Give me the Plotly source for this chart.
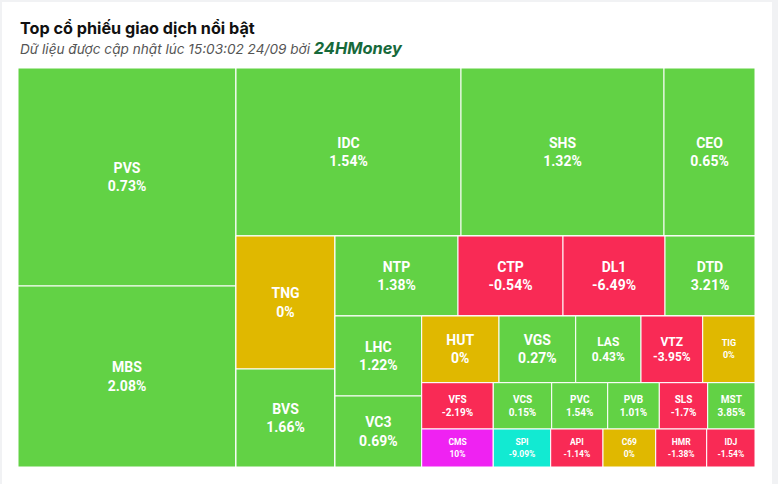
import plotly.graph_objects as go

# ---- data ----
tickers = ["PVS", "MBS", "IDC", "SHS", "CEO", "TNG", "BVS", "NTP", "CTP", "DL1",
           "DTD", "LHC", "VC3", "HUT", "VGS", "LAS", "VTZ", "TIG", "VFS", "CMS",
           "VCS", "PVC", "PVB", "SLS", "MST", "SPI", "API", "C69", "HMR", "IDJ"]
trade_values = [47524, 39458, 37800, 34104, 15288, 13167, 9702, 9840, 8400, 8160,
                7200, 6936, 6156, 5156, 5116, 4356, 4115, 3488, 3315, 2721,
                2704, 2593, 2389, 2241, 2190, 2181, 1987, 2003, 1938, 1835]
changes = [0.73, 2.08, 1.54, 1.32, 0.65, 0, 1.66, 1.38, -0.54, -6.49,
           3.21, 1.22, 0.69, 0, 0.27, 0.43, -3.95, 0, -2.19, 10,
           0.15, 1.54, 1.01, -1.7, 3.85, -9.09, -1.14, 0, -1.38, -1.54]
price_limit = {"CMS": "ceiling", "SPI": "floor"}
# tiles grouped in the order the chart lays them out (alternating columns / rows)
tile_groups = [["PVS", "MBS"], ["IDC", "SHS", "CEO"], ["TNG", "BVS"],
               ["NTP", "CTP", "DL1", "DTD"], ["LHC", "VC3"],
               ["HUT", "VGS", "LAS", "VTZ", "TIG"], ["VFS", "CMS"],
               ["VCS", "PVC", "PVB", "SLS", "MST"], ["SPI", "API", "C69", "HMR", "IDJ"]]

# ---- styles ----
GREEN, RED, GOLD, MAGENTA, CYAN = "#62D245", "#F92A55", "#E0B800", "#EF22F2", "#12EAD2"
font_size = {t: 14 for t in tickers}
font_size.update({"LAS": 12, "VTZ": 12, "TIG": 9,
                  "VFS": 10, "VCS": 10, "PVC": 10, "PVB": 10, "SLS": 10, "MST": 10,
                  "CMS": 8.5, "SPI": 8.5, "API": 8.5, "C69": 8.5, "HMR": 8.5, "IDJ": 8.5})

def color_for(t, c):
    if price_limit.get(t) == "ceiling":
        return MAGENTA
    if price_limit.get(t) == "floor":
        return CYAN
    if c > 0:
        return GREEN
    if c < 0:
        return RED
    return GOLD

ids, labels, parents, values, texts, colors, sizes = [], [], [], [], [], [], []

def add(i, lab, par, val, txt, col, sz):
    ids.append(i); labels.append(lab); parents.append(par); values.append(val)
    texts.append(txt); colors.append(col); sizes.append(sz)

add("root", "", "", 0, "", "white", 10)
container = "root"
n = len(tile_groups)
for gi, grp in enumerate(tile_groups):
    add(f"G{gi}", "", container, 0, "", "white", 10)
    if gi < n - 2:
        rid = f"R{gi}"
        add(rid, "", container, 0, "", "white", 10)
        container = rid

lookup = {t: (v, c) for t, v, c in zip(tickers, trade_values, changes)}
for gi, grp in enumerate(tile_groups):
    for t in grp:
        v, c = lookup[t]
        add(t, t, f"G{gi}", v, f"{t}<br>{c:g}%", color_for(t, c), font_size[t])

fig = go.Figure(go.Treemap(
    ids=ids, labels=labels, parents=parents, values=values,
    branchvalues="remainder", sort=False,
    text=texts, textinfo="text", textposition="middle center",
    textfont=dict(family="Roboto", color="white", size=sizes, weight="bold"),
    marker=dict(colors=colors, line=dict(color="white", width=1),
                pad=dict(t=0, l=0, r=0, b=0)),
    tiling=dict(packing="slice-dice", pad=0),
    pathbar=dict(visible=False),
    hoverinfo="none",
))

fig.update_layout(
    width=778, height=484,
    margin=dict(l=18, r=23, t=68, b=17),
    paper_bgcolor="#F1F2F4",
    showlegend=False,
    shapes=[dict(type="rect", xref="paper", yref="paper", layer="below",
                 x0=-0.0217, x1=1.0231, y0=-0.0426, y1=1.1654,
                 fillcolor="white", line=dict(width=0))],
    annotations=[
        dict(text="<b>Top cổ phiếu giao dịch nổi bật</b>", xref="paper", yref="paper",
             x=0, y=1.1003, xanchor="left", yanchor="middle", showarrow=False,
             font=dict(family="Inter", size=16.2, color="#111111")),
        dict(text="<i>Dữ liệu được cập nhật lúc 15:03:02 24/09 bởi </i>"
                  "<b><i><span style='color:#17693B;font-size:16.4px'>24HMoney</span></i></b>",
             xref="paper", yref="paper", x=0, y=1.0501, xanchor="left", yanchor="middle",
             showarrow=False, font=dict(family="Inter", size=13.6, color="#555555")),
    ],
)

fig.write_html("out.html", config={"displayModeBar": False},
               post_script="document.body.style.margin='0';")
